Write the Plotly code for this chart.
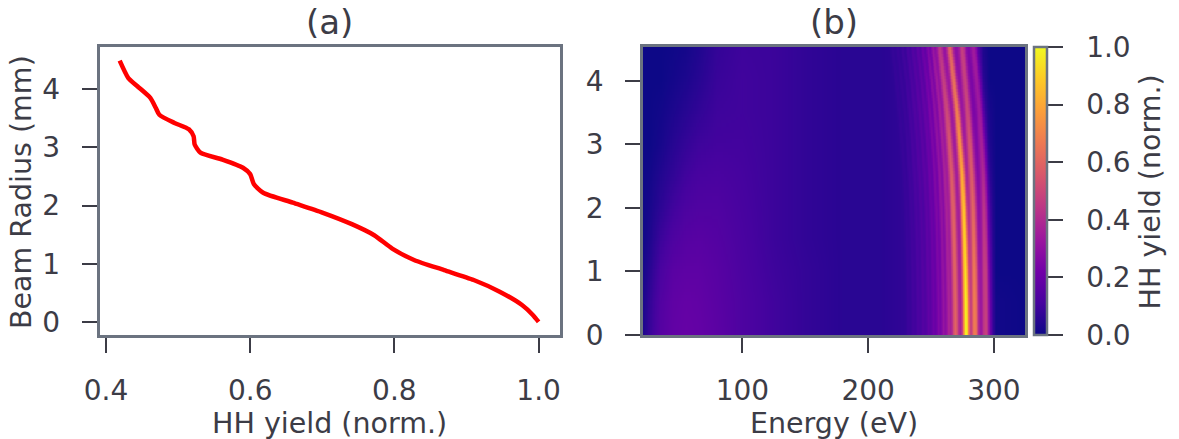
import numpy as np
import plotly.graph_objects as go

# ---------------- Panel (a): radial HH yield ----------------
hh_yield = [0.419, 0.431, 0.4436, 0.4615, 0.469, 0.474, 0.495, 0.515, 0.5215, 0.523,
            0.531, 0.5615, 0.590, 0.600, 0.605, 0.618, 0.659, 0.700, 0.741, 0.772,
            0.797, 0.828, 0.869, 0.910, 0.946, 0.977, 0.992, 1.000]
beam_radius = [4.49, 4.19, 4.05, 3.85, 3.68, 3.56, 3.42, 3.31, 3.19, 3.05,
               2.91, 2.79, 2.65, 2.54, 2.37, 2.22, 2.05, 1.88, 1.68, 1.49,
               1.26, 1.06, 0.89, 0.72, 0.52, 0.29, 0.12, 0.0]

# ---------------- Panel (b): HH spectrum vs radius ----------------
radius_rows = [0.0, 0.5, 1.0, 1.5, 2.0, 2.5, 3.0, 3.5, 4.0, 4.5]
bg_energy = [20, 26, 35, 45, 55, 65, 80, 100, 125, 150, 180, 210,
             230, 245, 255, 265, 275, 285, 292, 297, 302, 325]
bg_rows = [
    [0.02, 0.08, 0.15, 0.18, 0.19, 0.185, 0.165, 0.13, 0.10, 0.075, 0.055, 0.055,
     0.07, 0.11, 0.17, 0.26, 0.30, 0.30, 0.26, 0.14, 0.01, 0.0],
    [0.015, 0.07, 0.14, 0.175, 0.185, 0.18, 0.16, 0.13, 0.10, 0.075, 0.055, 0.055,
     0.07, 0.11, 0.17, 0.26, 0.30, 0.30, 0.25, 0.13, 0.01, 0.0],
    [0.01, 0.05, 0.12, 0.16, 0.17, 0.17, 0.155, 0.125, 0.095, 0.075, 0.055, 0.055,
     0.07, 0.11, 0.17, 0.26, 0.30, 0.30, 0.24, 0.12, 0.0, 0.0],
    [0.0, 0.03, 0.09, 0.13, 0.15, 0.155, 0.145, 0.12, 0.09, 0.07, 0.055, 0.055,
     0.07, 0.11, 0.17, 0.26, 0.30, 0.29, 0.22, 0.10, 0.0, 0.0],
    [0.0, 0.02, 0.06, 0.10, 0.125, 0.135, 0.135, 0.115, 0.09, 0.07, 0.055, 0.055,
     0.07, 0.11, 0.18, 0.27, 0.30, 0.28, 0.20, 0.08, 0.0, 0.0],
    [0.0, 0.01, 0.04, 0.07, 0.10, 0.115, 0.12, 0.11, 0.09, 0.07, 0.055, 0.055,
     0.07, 0.12, 0.19, 0.28, 0.30, 0.26, 0.16, 0.05, 0.0, 0.0],
    [0.0, 0.0, 0.02, 0.05, 0.075, 0.095, 0.105, 0.105, 0.09, 0.07, 0.055, 0.055,
     0.07, 0.12, 0.20, 0.28, 0.29, 0.24, 0.12, 0.03, 0.0, 0.0],
    [0.0, 0.0, 0.01, 0.03, 0.05, 0.07, 0.095, 0.10, 0.09, 0.07, 0.055, 0.055,
     0.07, 0.13, 0.21, 0.28, 0.28, 0.21, 0.08, 0.02, 0.0, 0.0],
    [0.0, 0.0, 0.0, 0.015, 0.03, 0.05, 0.085, 0.10, 0.09, 0.07, 0.055, 0.055,
     0.07, 0.13, 0.22, 0.28, 0.28, 0.19, 0.05, 0.0, 0.0, 0.0],
    [0.0, 0.0, 0.0, 0.005, 0.015, 0.035, 0.075, 0.095, 0.09, 0.07, 0.055, 0.055,
     0.07, 0.13, 0.23, 0.28, 0.27, 0.17, 0.03, 0.0, 0.0, 0.0],
]
# bright harmonic stripes near cutoff: centre energy (eV) per radius row
peak_centers = [
    [269.5, 269.3, 268.9, 268.3, 267.6, 266.4, 264.7, 262.6, 260.0, 257.0],
    [278.0, 277.8, 277.4, 276.8, 276.0, 274.8, 273.0, 270.8, 268.0, 265.0],
    [285.0, 284.8, 284.5, 284.0, 283.4, 282.4, 281.0, 279.3, 277.3, 275.0],
    [294.0, 293.8, 293.5, 293.1, 292.6, 291.8, 290.6, 289.0, 286.8, 284.0],
]
peak_heights = [
    [0.32, 0.32, 0.32, 0.32, 0.31, 0.29, 0.27, 0.24, 0.22, 0.20],
    [0.70, 0.68, 0.64, 0.60, 0.56, 0.50, 0.45, 0.40, 0.35, 0.32],
    [0.38, 0.38, 0.36, 0.34, 0.32, 0.30, 0.28, 0.25, 0.22, 0.20],
    [0.26, 0.26, 0.26, 0.25, 0.24, 0.23, 0.22, 0.20, 0.18, 0.16],
]
peak_widths = [2.0, 1.8, 2.0, 2.2]
# faint harmonic comb below the bright stripes (centres at r = 0)
comb_centers = [232, 236, 240, 244, 248, 252, 256, 260, 264]
comb_heights = [0.015, 0.02, 0.03, 0.04, 0.05, 0.06, 0.08, 0.10, 0.12]
comb_width = 1.2

# ---- build the image table from the values above ----
energy = np.arange(20.0, 325.01, 0.5)
radius = np.arange(0.0, 4.5501, 0.05)
bg_rows_a = np.array(bg_rows)
bg_fine = np.array([[np.interp(r, radius_rows, bg_rows_a[:, j]) for j in range(len(bg_energy))]
                    for r in radius])
z = np.array([np.interp(energy, bg_energy, row) for row in bg_fine])
for k in range(len(peak_centers)):
    c = np.interp(radius, radius_rows, peak_centers[k])
    h = np.interp(radius, radius_rows, peak_heights[k])
    z += h[:, None] * np.exp(-(energy[None, :] - c[:, None]) ** 2 / (2 * peak_widths[k] ** 2))
shift = np.interp(radius, radius_rows, np.array(peak_centers[0]) - peak_centers[0][0])
for cc, hh in zip(comb_centers, comb_heights):
    z += hh * np.exp(-(energy[None, :] - (cc + shift[:, None])) ** 2 / (2 * comb_width ** 2))
z = np.clip(z, 0, 1)

TXT = "#3c3c46"
SP = "#6b7380"
W, H = 1179, 439
FONT = "DejaVu Sans"
TICK = 28
LAB = 28.5
TITLE = 34
ML, MR, MT, MB = 99, 154, 47, 104
PW, PH = W - ML - MR, H - MT - MB
NB = "\u00a0"

def fx(px):
    return (px - ML) / PW

def fy(py):
    return (H - MB - py) / PH

fig = go.Figure()
fig.add_trace(go.Scatter(x=hh_yield, y=beam_radius, mode="lines",
                         line=dict(color="#ff0000", width=4.5, shape="spline", smoothing=0.6),
                         xaxis="x", yaxis="y", showlegend=False))
fig.add_trace(go.Heatmap(x=energy, y=radius, z=z, colorscale="Plasma", zmin=0, zmax=1,
                         xaxis="x2", yaxis="y2", zsmooth=False,
                         colorbar=dict(x=fx(1034), xanchor="left", xpad=0, ypad=0,
                                       thickness=13, thicknessmode="pixels",
                                       len=PH, lenmode="pixels",
                                       y=0.5, yanchor="middle",
                                       outlinecolor=SP, outlinewidth=2.5,
                                       ticks="outside", ticklen=15, tickwidth=1.5, tickcolor=TXT,
                                       tickvals=[0, 0.2, 0.4, 0.6, 0.8, 1.0],
                                       ticktext=[NB + NB + t for t in ["0.0", "0.2", "0.4", "0.6", "0.8", "1.0"]],
                                       tickfont=dict(size=TICK, color=TXT, family=FONT))))

axis_common = dict(ticks="outside", ticklen=15, tickwidth=1.5, tickcolor=TXT,
                   showline=True, mirror=True, linecolor=SP, linewidth=2.5,
                   showgrid=False, zeroline=False, automargin=False,
                   tickfont=dict(size=TICK, color=TXT, family=FONT))

fig.update_layout(
    width=W, height=H, margin=dict(l=ML, r=MR, t=MT, b=MB, autoexpand=False),
    paper_bgcolor="white", plot_bgcolor="white",
    font=dict(family=FONT, size=TICK, color=TXT),
    showlegend=False,
    xaxis=dict(domain=[fx(99.5), fx(559.5)], range=[0.391, 1.029], anchor="y",
               tickvals=[0.4, 0.6, 0.8, 1.0], ticktext=["0.4", "0.6", "0.8", "1.0"],
               ticklabelstandoff=14, **axis_common),
    yaxis=dict(domain=[0, 1], range=[-0.225, 4.725], anchor="x",
               tickvals=[0, 1, 2, 3, 4], ticktext=["0", "1", "2", "3", "4"],
               ticklabelstandoff=16, **axis_common),
    xaxis2=dict(domain=[fx(643), 1], range=[20.9, 324.7], anchor="y2",
                tickvals=[100, 200, 300], ticktext=["100", "200", "300"],
                ticklabelstandoff=14, **axis_common),
    yaxis2=dict(domain=[0, 1], range=[0, 4.53], anchor="x2",
                tickvals=[0, 1, 2, 3, 4], ticktext=["0", "1", "2", "3", "4"],
                ticklabelstandoff=16, **axis_common),
    annotations=[
        dict(text="(a)", x=fx(329.5), y=fy(22), xref="paper", yref="paper",
             showarrow=False, font=dict(size=TITLE, color=TXT, family=FONT),
             xanchor="center", yanchor="middle"),
        dict(text="(b)", x=fx(833.75), y=fy(22), xref="paper", yref="paper",
             showarrow=False, font=dict(size=TITLE, color=TXT, family=FONT),
             xanchor="center", yanchor="middle"),
        dict(text="HH yield (norm.)", x=fx(329.5), y=fy(423), xref="paper", yref="paper",
             showarrow=False, font=dict(size=LAB, color=TXT, family=FONT),
             xanchor="center", yanchor="middle"),
        dict(text="Energy (eV)", x=fx(833.75), y=fy(423), xref="paper", yref="paper",
             showarrow=False, font=dict(size=LAB, color=TXT, family=FONT),
             xanchor="center", yanchor="middle"),
        dict(text="Beam Radius (mm)", x=fx(21), y=fy(192), xref="paper", yref="paper",
             showarrow=False, textangle=-90, font=dict(size=LAB, color=TXT, family=FONT),
             xanchor="center", yanchor="middle"),
        dict(text="HH yield (norm.)", x=fx(1150), y=fy(192.5), xref="paper", yref="paper",
             showarrow=False, textangle=-90, font=dict(size=LAB, color=TXT, family=FONT),
             xanchor="center", yanchor="middle"),
    ],
)

fig.write_html("out.html", config={"displayModeBar": False},
               post_script="document.body.style.margin='0';document.body.style.padding='0';")
